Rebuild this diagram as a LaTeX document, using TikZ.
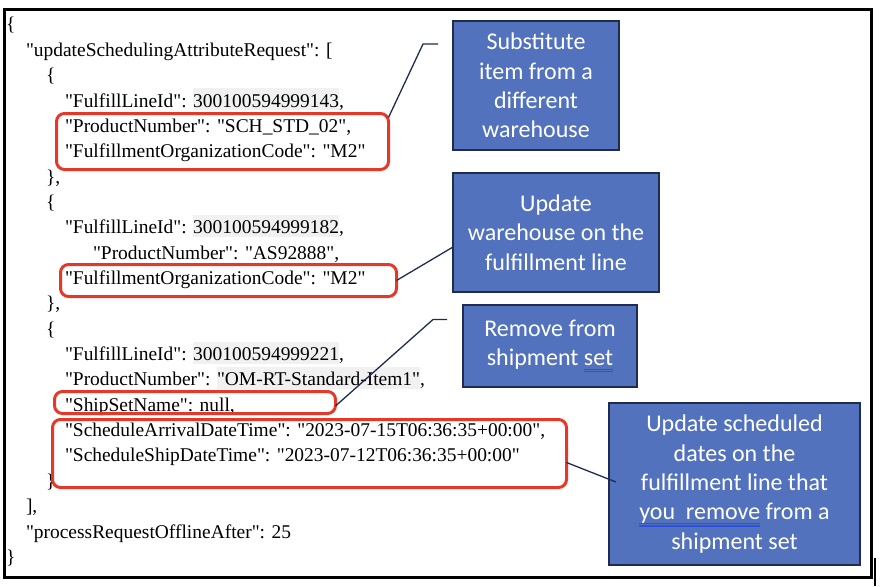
\documentclass[tikz,border=0pt]{standalone}
\usepackage{fontspec}
\setmainfont{Liberation Serif}[Ligatures=TeXOff]
\newfontfamily\calfont{Carlito}
\definecolor{boxblue}{RGB}{82,114,190}
\definecolor{boxedge}{RGB}{31,44,80}
\definecolor{hired}{RGB}{230,56,40}
\definecolor{linknavy}{RGB}{31,44,80}
\definecolor{hlgray}{RGB}{241,241,241}
\definecolor{ulblue}{RGB}{45,80,225}
\newsavebox\sqbox
\newcommand\squig[1]{\sbox\sqbox{#1}\rlap{\color{ulblue}\rule[-4.4pt]{\wd\sqbox}{1.2pt}}\rlap{\color{ulblue}\rule[-6.8pt]{\wd\sqbox}{1.2pt}}\usebox\sqbox}
\newcommand\hlbox[1]{{\setlength\fboxsep{0pt}\colorbox{hlgray}{\rule[-3pt]{0pt}{22pt}#1}}}
\begin{document}
\begin{tikzpicture}[x=1pt,y=-1pt,
 jline/.style={anchor=base west, inner sep=0pt, outer sep=0pt, font=\fontsize{19.45}{25.35}\selectfont},
 redbox/.style={draw=hired, line width=3pt, rounded corners=8pt, inner sep=0pt, outer sep=0pt},
 note/.style={draw=boxedge, line width=2pt, fill=boxblue, text=white, align=center, inner sep=0pt, outer sep=0pt, font=\calfont\fontsize{24}{29.3}\selectfont},
 link/.style={draw=linknavy, line width=1.3pt}]
\useasboundingbox (0,0) rectangle (880,586);
% outer frame
\draw[line width=2.7pt] (4.5,9.5) rectangle (871.5,577.5);
\draw[line width=1.8pt] (875,558) -- (875,586);
% JSON text
\node[jline] (l0)  at (6,31)      {\{};
\node[jline] (l1)  at (26,56.35)  {"updateSchedulingAttributeRequest": [};
\node[jline] (l2)  at (46,81.7)   {\{};
\node[jline] (l3)  at (65,107.05) {"FulfillLineId": \hlbox{300100594999143},};
\node[jline] (l4)  at (65,132.4)  {"ProductNumber": "SCH\_STD\_02",};
\node[jline] (l5)  at (65,157.75) {"FulfillmentOrganizationCode": "M2"};
\node[jline] (l6)  at (46,183.1)  {\},};
\node[jline] (l7)  at (46,208.45) {\{};
\node[jline] (l8)  at (65,233.8)  {"FulfillLineId": \hlbox{300100594999182},};
\node[jline] (l9)  at (93,259.15) {"ProductNumber": "AS92888",};
\node[jline] (l10) at (65,284.5)  {"FulfillmentOrganizationCode": "M2"};
\node[jline] (l11) at (46,309.85) {\},};
\node[jline] (l12) at (46,335.2)  {\{};
\node[jline] (l13) at (65,360.55) {"FulfillLineId": \hlbox{300100594999221},};
\node[jline] (l14) at (65,385.9)  {"ProductNumber": \hlbox{"OM-RT-Standard-Item1"},};
\node[jline] (l15) at (65,411.25) {"ShipSetName": null,};
\node[jline] (l16) at (65,436.6)  {"ScheduleArrivalDateTime": "2023-07-15T06:36:35+00:00",};
\node[jline] (l17) at (65,461.95) {"ScheduleShipDateTime": "2023-07-12T06:36:35+00:00"};
\node[jline] (l18) at (46,487.3)  {\}};
\node[jline] (l19) at (26,512.65) {],};
\node[jline] (l20) at (26,538)    {"processRequestOfflineAfter": 25};
\node[jline] (l21) at (6,563.35)  {\}};
% red highlight boxes
\node[redbox, minimum width=332pt, minimum height=56pt] (r1) at (222.5,141.5) {};
\node[redbox, minimum width=336pt, minimum height=32pt] (r2) at (228.5,280.5) {};
\node[redbox, minimum width=281pt, minimum height=22pt] (r3) at (195,402.5) {};
\node[redbox, minimum width=514pt, minimum height=68pt] (r4) at (309.5,453.5) {};
% blue notes
\node[note, minimum width=166pt, minimum height=129pt] (b1) at (536,85.5) {Substitute\\item from a\\different\\warehouse};
\node[note, minimum width=206pt, minimum height=119pt] (b2) at (556,232.5) {Update\\warehouse on the\\fulfillment line};
\node[note, minimum width=174pt, minimum height=82pt] (b3) at (550,346) {Remove from\\shipment \squig{set}};
\node[note, minimum width=251pt, minimum height=162pt] (b4) at (734.5,484) {Update scheduled\\dates on the\\fulfillment line that\\\squig{you\ \ remove} from a\\shipment set};
% connectors
\coordinate (k1a) at (423,44);
\coordinate (k1b) at (438,44);
\coordinate (k3a) at (433,319.5);
\coordinate (k3b) at (447,319.5);
\draw[link] ([yshift=-4pt]r1.north east) -- (k1a) -- (k1b);
\draw[link] (r2.east) -- ([yshift=-14.5pt]b2.west);
\draw[link] ([yshift=-3.5pt]r3.east) -- (k3a) -- (k3b);
\draw[link] ([yshift=-9pt]r4.east) -- ([xshift=7pt,yshift=2pt]b4.west);
\end{tikzpicture}
\end{document}
